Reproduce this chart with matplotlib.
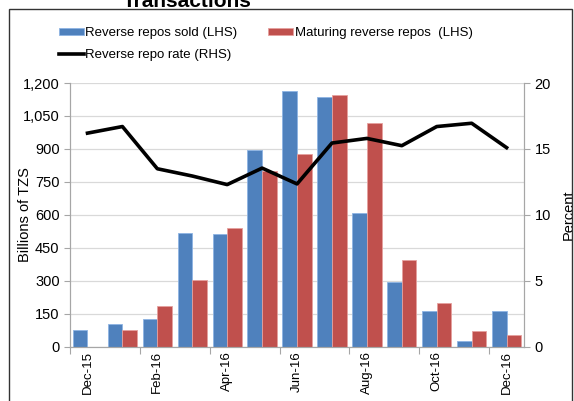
import numpy as np
import matplotlib.pyplot as plt
from matplotlib.patches import Rectangle

plt.rcParams['font.family'] = ['Liberation Sans', 'DejaVu Sans']

# --- Dados ---
meses = ['Dec-15', 'Jan-16', 'Feb-16', 'Mar-16', 'Apr-16', 'May-16', 'Jun-16',
         'Jul-16', 'Aug-16', 'Sep-16', 'Oct-16', 'Nov-16', 'Dec-16']
vendidos = np.array([77, 103, 125, 518, 514, 894, 1162, 1136, 611, 297, 165, 27, 165])
vencidos = np.array([0, 76, 186, 306, 540, 802, 876, 1146, 1017, 394, 199, 73, 54])
taxa = np.array([16.2, 16.7, 13.5, 12.95, 12.3, 13.55, 12.35, 15.45, 15.8, 15.25, 16.7, 16.95, 15.1])

azul = '#4F81BD'
vermelho = '#C0504D'
cinza = '#A6A6A6'

fig = plt.figure(figsize=(5.74, 4.01), dpi=100)
ax = fig.add_axes([0.122, 0.135, 0.791, 0.658])

x = np.arange(len(meses))
w = 0.42
b1 = ax.bar(x - w / 2, vendidos, w, color=azul, edgecolor='#8EB4E3', linewidth=0.6,
            label='Reverse repos sold (LHS)', zorder=2)
b2 = ax.bar(x + w / 2, vencidos, w, color=vermelho, edgecolor='#E6A09E', linewidth=0.6,
            label='Maturing reverse repos  (LHS)', zorder=2)

ax.set_xlim(-0.5, len(meses) - 0.5)
ax.set_ylim(0, 1200)
ax.set_yticks(np.arange(0, 1201, 150))
ax.set_yticklabels([f'{v:,}' for v in range(0, 1201, 150)])
ax.yaxis.grid(True, color='#D9D9D9', linewidth=0.9, zorder=0)
ax.set_axisbelow(True)

# ticks nas fronteiras, rótulos nos centros
ax.set_xticks(np.arange(-0.5, len(meses) - 1, 2))
ax.set_xticklabels([])
ax.set_xticks(x[::2], minor=True)
ax.set_xticklabels(meses[::2], minor=True, rotation=90, fontsize=9.5)
ax.tick_params(axis='x', which='major', direction='out', length=5, color=cinza)
ax.tick_params(axis='x', which='minor', length=0, pad=3)
ax.tick_params(axis='y', direction='out', length=4, color=cinza, labelsize=10.5)
ax.set_ylabel('Billions of TZS', fontsize=10.5)
ax.yaxis.set_label_coords(-0.084, 0.5)

for s in ['top']:
    ax.spines[s].set_visible(False)
for s in ['left', 'bottom', 'right']:
    ax.spines[s].set_color(cinza)

ax2 = ax.twinx()
l1, = ax2.plot(x, taxa, color='black', linewidth=2.6, label='Reverse repo rate (RHS)')
ax2.set_ylim(0, 20)
ax2.set_yticks(np.arange(0, 21, 5))
ax2.tick_params(axis='y', direction='out', length=4, color=cinza, labelsize=10.5)
ax2.set_ylabel('Percent', fontsize=10.5)
ax2.yaxis.set_label_coords(1.082, 0.5)
ax2.spines['top'].set_visible(False)
for s in ['left', 'bottom', 'right']:
    ax2.spines[s].set_color(cinza)

fig.legend([b1, l1, b2], [b1.get_label(), l1.get_label(), b2.get_label()],
           ncol=2, loc='upper left', bbox_to_anchor=(0.093, 0.945), frameon=False,
           fontsize=9.5, handlelength=1.9, handleheight=0.45, handletextpad=0.1,
           columnspacing=2.35, labelspacing=0.75, borderaxespad=0)

fig.text(0.326, 0.982, 'Transactions', fontsize=15, fontweight='bold',
         ha='center', va='baseline')

fig.patches.append(Rectangle((9 / 574, -0.01), 563 / 574, 1 - 9 / 401 + 0.01,
                             transform=fig.transFigure, fill=False,
                             edgecolor='#333333', linewidth=1.0))

fig.savefig('out.png', dpi=100)
